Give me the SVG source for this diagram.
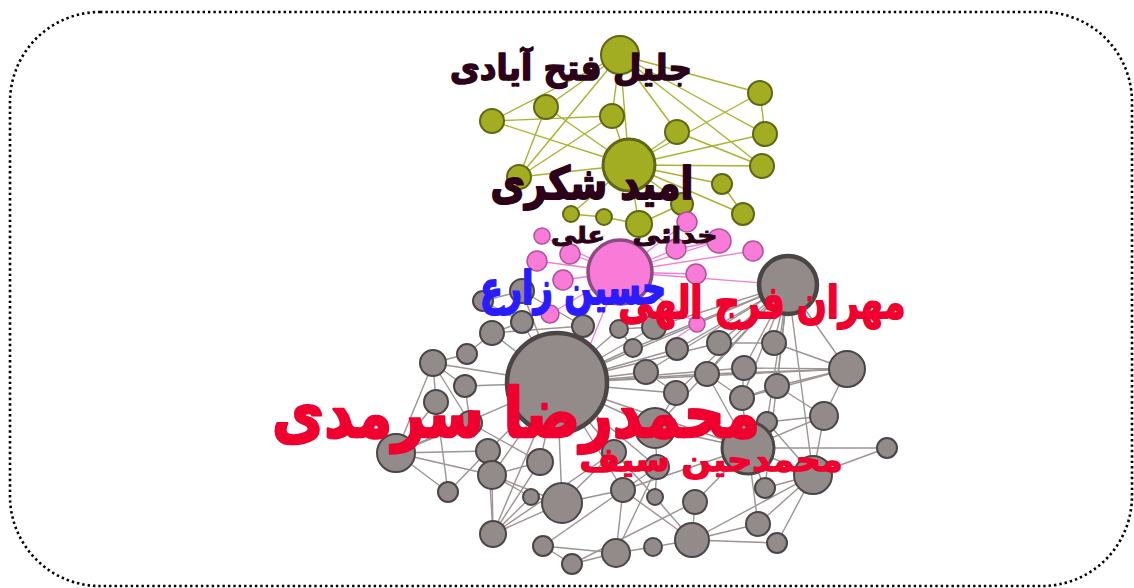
<svg xmlns="http://www.w3.org/2000/svg" width="1134" height="588" viewBox="0 0 1134 588">
<style>
.frame{fill:#fff;stroke:#000;stroke-width:2.6;stroke-dasharray:2.4 3;stroke-linecap:butt}
.eo{stroke:#aab22e;stroke-width:1.4;fill:none}
.ep{stroke:#f27ed6;stroke-width:1.3;fill:none}
.eg{stroke:#9c9393;stroke-width:1.4;fill:none}
.no{fill:#a3ad22;stroke:#5f6614;stroke-width:2}
.np{fill:#f97bd8;stroke:#b0509c;stroke-width:1.5}
.npb{fill:#f97bd8;stroke:#8f4a86;stroke-width:3.5}
.ng{fill:#938a8a;stroke:#4b4545;stroke-width:2}
.ngb{fill:#938a8a;stroke:#4b4545;stroke-width:4.5}
.lb{font-family:"DejaVu Sans",sans-serif;font-weight:bold;text-anchor:middle;stroke-linejoin:round}
.dk{fill:#2c0219;stroke:#2c0219}
.rd{fill:#f0002e;stroke:#f0002e}
.bl{fill:#2a1cff;stroke:#2a1cff}
</style>
<rect class="frame" x="10" y="12" width="1122" height="574" rx="90" ry="90"/>
<g id="connectors">
<g class="eo">
<line x1="620" y1="55" x2="760" y2="93"/>
<line x1="620" y1="55" x2="765" y2="134"/>
<line x1="620" y1="55" x2="762" y2="166"/>
<line x1="620" y1="55" x2="677" y2="132"/>
<line x1="620" y1="55" x2="629" y2="165"/>
<line x1="620" y1="55" x2="612" y2="116"/>
<line x1="620" y1="55" x2="546" y2="107"/>
<line x1="620" y1="55" x2="519" y2="177"/>
<line x1="620" y1="55" x2="492" y2="121"/>
<line x1="492" y1="121" x2="612" y2="116"/>
<line x1="492" y1="121" x2="629" y2="165"/>
<line x1="546" y1="107" x2="629" y2="165"/>
<line x1="546" y1="107" x2="519" y2="177"/>
<line x1="612" y1="116" x2="629" y2="165"/>
<line x1="612" y1="116" x2="519" y2="177"/>
<line x1="760" y1="93" x2="765" y2="134"/>
<line x1="760" y1="93" x2="629" y2="165"/>
<line x1="765" y1="134" x2="629" y2="165"/>
<line x1="762" y1="166" x2="629" y2="165"/>
<line x1="677" y1="132" x2="629" y2="165"/>
<line x1="677" y1="132" x2="762" y2="166"/>
<line x1="519" y1="177" x2="629" y2="165"/>
<line x1="629" y1="165" x2="722" y2="184"/>
<line x1="629" y1="165" x2="682" y2="204"/>
<line x1="629" y1="165" x2="743" y2="214"/>
<line x1="722" y1="184" x2="743" y2="214"/>
<line x1="629" y1="165" x2="571" y2="214"/>
<line x1="629" y1="165" x2="639" y2="224"/>
<line x1="604" y1="217" x2="639" y2="224"/>
<line x1="682" y1="204" x2="639" y2="224"/>
<line x1="571" y1="214" x2="604" y2="217"/>
</g>
<g class="ep">
<line x1="620" y1="272" x2="542" y2="236"/>
<line x1="620" y1="272" x2="570" y2="254"/>
<line x1="620" y1="272" x2="537" y2="261"/>
<line x1="620" y1="272" x2="676" y2="249"/>
<line x1="620" y1="272" x2="719" y2="241"/>
<line x1="620" y1="272" x2="753" y2="251"/>
<line x1="620" y1="272" x2="696" y2="274"/>
<line x1="620" y1="272" x2="563" y2="280"/>
<line x1="620" y1="272" x2="550" y2="314"/>
<line x1="620" y1="272" x2="687" y2="222"/>
<line x1="620" y1="272" x2="788" y2="285"/>
<line x1="620" y1="272" x2="590" y2="345"/>
<line x1="676" y1="249" x2="719" y2="241"/>
<line x1="697" y1="324" x2="670" y2="342"/>
<line x1="620" y1="272" x2="697" y2="324"/>
</g>
<g class="eg">
<line x1="557" y1="383" x2="522" y2="291"/>
<line x1="557" y1="383" x2="522" y2="322"/>
<line x1="557" y1="383" x2="492" y2="333"/>
<line x1="557" y1="383" x2="433" y2="363"/>
<line x1="557" y1="383" x2="465" y2="386"/>
<line x1="557" y1="383" x2="583" y2="326"/>
<line x1="557" y1="383" x2="619" y2="329"/>
<line x1="557" y1="383" x2="633" y2="348"/>
<line x1="557" y1="383" x2="654" y2="327"/>
<line x1="557" y1="383" x2="677" y2="349"/>
<line x1="557" y1="383" x2="719" y2="343"/>
<line x1="557" y1="383" x2="646" y2="372"/>
<line x1="557" y1="383" x2="707" y2="374"/>
<line x1="557" y1="383" x2="744" y2="368"/>
<line x1="557" y1="383" x2="847" y2="369"/>
<line x1="557" y1="383" x2="676" y2="393"/>
<line x1="557" y1="383" x2="655" y2="428"/>
<line x1="557" y1="383" x2="488" y2="451"/>
<line x1="557" y1="383" x2="492" y2="475"/>
<line x1="557" y1="383" x2="540" y2="462"/>
<line x1="557" y1="383" x2="562" y2="503"/>
<line x1="557" y1="383" x2="493" y2="534"/>
<line x1="557" y1="383" x2="614" y2="452"/>
<line x1="557" y1="383" x2="623" y2="490"/>
<line x1="557" y1="383" x2="657" y2="467"/>
<line x1="557" y1="383" x2="748" y2="448"/>
<line x1="557" y1="383" x2="396" y2="453"/>
<line x1="557" y1="383" x2="788" y2="285"/>
<line x1="788" y1="285" x2="654" y2="327"/>
<line x1="788" y1="285" x2="677" y2="349"/>
<line x1="788" y1="285" x2="719" y2="343"/>
<line x1="788" y1="285" x2="774" y2="343"/>
<line x1="788" y1="285" x2="646" y2="372"/>
<line x1="788" y1="285" x2="707" y2="374"/>
<line x1="788" y1="285" x2="744" y2="368"/>
<line x1="788" y1="285" x2="847" y2="369"/>
<line x1="788" y1="285" x2="777" y2="386"/>
<line x1="788" y1="285" x2="676" y2="393"/>
<line x1="788" y1="285" x2="742" y2="398"/>
<line x1="788" y1="285" x2="767" y2="422"/>
<line x1="788" y1="285" x2="813" y2="475"/>
<line x1="788" y1="285" x2="765" y2="488"/>
<line x1="788" y1="285" x2="655" y2="428"/>
<line x1="788" y1="285" x2="633" y2="348"/>
<line x1="847" y1="369" x2="774" y2="343"/>
<line x1="847" y1="369" x2="744" y2="368"/>
<line x1="847" y1="369" x2="777" y2="386"/>
<line x1="847" y1="369" x2="824" y2="416"/>
<line x1="847" y1="369" x2="707" y2="374"/>
<line x1="847" y1="369" x2="742" y2="398"/>
<line x1="824" y1="416" x2="777" y2="386"/>
<line x1="824" y1="416" x2="748" y2="448"/>
<line x1="824" y1="416" x2="767" y2="422"/>
<line x1="824" y1="416" x2="813" y2="475"/>
<line x1="748" y1="448" x2="887" y2="448"/>
<line x1="748" y1="448" x2="813" y2="475"/>
<line x1="748" y1="448" x2="655" y2="428"/>
<line x1="748" y1="448" x2="742" y2="398"/>
<line x1="748" y1="448" x2="765" y2="488"/>
<line x1="748" y1="448" x2="758" y2="524"/>
<line x1="748" y1="448" x2="695" y2="502"/>
<line x1="748" y1="448" x2="623" y2="490"/>
<line x1="748" y1="448" x2="707" y2="374"/>
<line x1="813" y1="475" x2="887" y2="448"/>
<line x1="813" y1="475" x2="758" y2="524"/>
<line x1="813" y1="475" x2="777" y2="543"/>
<line x1="813" y1="475" x2="692" y2="540"/>
<line x1="813" y1="475" x2="765" y2="488"/>
<line x1="813" y1="475" x2="767" y2="422"/>
<line x1="692" y1="540" x2="695" y2="502"/>
<line x1="692" y1="540" x2="758" y2="524"/>
<line x1="692" y1="540" x2="777" y2="543"/>
<line x1="692" y1="540" x2="655" y2="497"/>
<line x1="692" y1="540" x2="653" y2="547"/>
<line x1="692" y1="540" x2="623" y2="490"/>
<line x1="616" y1="553" x2="623" y2="490"/>
<line x1="616" y1="553" x2="572" y2="564"/>
<line x1="616" y1="553" x2="543" y2="546"/>
<line x1="616" y1="553" x2="653" y2="547"/>
<line x1="616" y1="553" x2="657" y2="467"/>
<line x1="572" y1="564" x2="543" y2="546"/>
<line x1="572" y1="564" x2="695" y2="502"/>
<line x1="493" y1="534" x2="492" y2="475"/>
<line x1="493" y1="534" x2="540" y2="462"/>
<line x1="493" y1="534" x2="562" y2="503"/>
<line x1="493" y1="534" x2="531" y2="497"/>
<line x1="493" y1="534" x2="488" y2="451"/>
<line x1="493" y1="534" x2="614" y2="452"/>
<line x1="562" y1="503" x2="614" y2="452"/>
<line x1="562" y1="503" x2="623" y2="490"/>
<line x1="562" y1="503" x2="531" y2="497"/>
<line x1="543" y1="546" x2="623" y2="490"/>
<line x1="396" y1="453" x2="436" y2="402"/>
<line x1="396" y1="453" x2="488" y2="451"/>
<line x1="396" y1="453" x2="492" y2="475"/>
<line x1="396" y1="453" x2="448" y2="492"/>
<line x1="396" y1="453" x2="433" y2="363"/>
<line x1="396" y1="453" x2="470" y2="423"/>
<line x1="448" y1="492" x2="488" y2="451"/>
<line x1="448" y1="492" x2="436" y2="402"/>
<line x1="492" y1="475" x2="488" y2="451"/>
<line x1="492" y1="475" x2="540" y2="462"/>
<line x1="492" y1="475" x2="562" y2="503"/>
<line x1="492" y1="475" x2="531" y2="497"/>
<line x1="433" y1="363" x2="467" y2="354"/>
<line x1="433" y1="363" x2="436" y2="402"/>
<line x1="433" y1="363" x2="465" y2="386"/>
<line x1="433" y1="363" x2="470" y2="423"/>
<line x1="467" y1="354" x2="492" y2="333"/>
<line x1="492" y1="333" x2="522" y2="322"/>
<line x1="492" y1="333" x2="583" y2="326"/>
<line x1="483" y1="301" x2="522" y2="322"/>
<line x1="483" y1="301" x2="522" y2="291"/>
<line x1="522" y1="291" x2="583" y2="326"/>
<line x1="470" y1="423" x2="540" y2="462"/>
<line x1="470" y1="423" x2="465" y2="386"/>
<line x1="657" y1="467" x2="655" y2="428"/>
<line x1="657" y1="467" x2="623" y2="490"/>
<line x1="657" y1="467" x2="655" y2="497"/>
<line x1="655" y1="497" x2="614" y2="452"/>
<line x1="619" y1="329" x2="633" y2="348"/>
<line x1="619" y1="329" x2="654" y2="327"/>
<line x1="742" y1="398" x2="744" y2="368"/>
<line x1="742" y1="398" x2="777" y2="386"/>
<line x1="742" y1="398" x2="707" y2="374"/>
<line x1="676" y1="393" x2="646" y2="372"/>
<line x1="676" y1="393" x2="655" y2="428"/>
<line x1="719" y1="343" x2="774" y2="343"/>
</g>
</g>
<g id="node-jalil"><circle class="no" cx="620" cy="55" r="19"/></g>
<g id="node-o1"><circle class="no" cx="760" cy="93" r="12"/></g>
<g id="node-o2"><circle class="no" cx="492" cy="121" r="12"/></g>
<g id="node-o3"><circle class="no" cx="546" cy="107" r="12"/></g>
<g id="node-o4"><circle class="no" cx="612" cy="116" r="12"/></g>
<g id="node-o5"><circle class="no" cx="677" cy="132" r="12"/></g>
<g id="node-o6"><circle class="no" cx="765" cy="134" r="12"/></g>
<g id="node-o7"><circle class="no" cx="762" cy="166" r="12"/></g>
<g id="node-omid"><circle class="no" cx="629" cy="165" r="26" style="stroke-width:3"/></g>
<g id="node-o8"><circle class="no" cx="519" cy="177" r="12"/></g>
<g id="node-o9"><circle class="no" cx="722" cy="184" r="10"/></g>
<g id="node-o10"><circle class="no" cx="682" cy="204" r="11"/></g>
<g id="node-o11"><circle class="no" cx="743" cy="214" r="11"/></g>
<g id="node-o12"><circle class="no" cx="571" cy="214" r="8"/></g>
<g id="node-o13"><circle class="no" cx="604" cy="217" r="8"/></g>
<g id="node-p11"><circle class="np" cx="687" cy="222" r="10"/></g>
<g id="node-o14"><circle class="no" cx="639" cy="224" r="13"/></g>
<g id="node-p1"><circle class="np" cx="542" cy="236" r="8"/></g>
<g id="node-p2"><circle class="np" cx="570" cy="254" r="10"/></g>
<g id="node-p3"><circle class="np" cx="537" cy="261" r="10"/></g>
<g id="node-p4"><circle class="np" cx="676" cy="249" r="10"/></g>
<g id="node-p5"><circle class="np" cx="719" cy="241" r="12"/></g>
<g id="node-p6"><circle class="np" cx="753" cy="251" r="10"/></g>
<g id="node-p7"><circle class="np" cx="696" cy="274" r="10"/></g>
<g id="node-p8"><circle class="np" cx="563" cy="280" r="10"/></g>
<g id="node-g1"><circle class="ng" cx="483" cy="301" r="10"/></g>
<g id="node-g2"><circle class="ng" cx="522" cy="291" r="12"/></g>
<g id="node-p9"><circle class="np" cx="550" cy="314" r="9"/></g>
<g id="node-hossein"><circle class="npb" cx="620" cy="272" r="32"/></g>
<g id="node-mehran"><circle class="ngb" cx="788" cy="285" r="29"/></g>
<g id="node-p10"><circle class="np" cx="697" cy="324" r="8"/></g>
<g id="node-g3"><circle class="ng" cx="522" cy="322" r="11"/></g>
<g id="node-g4"><circle class="ng" cx="492" cy="333" r="12"/></g>
<g id="node-g5"><circle class="ng" cx="467" cy="354" r="10"/></g>
<g id="node-g6"><circle class="ng" cx="433" cy="363" r="13"/></g>
<g id="node-g7"><circle class="ng" cx="465" cy="386" r="11"/></g>
<g id="node-g8"><circle class="ng" cx="436" cy="402" r="12"/></g>
<g id="node-g9"><circle class="ng" cx="583" cy="326" r="11"/></g>
<g id="node-g10"><circle class="ng" cx="619" cy="329" r="9"/></g>
<g id="node-g11"><circle class="ng" cx="633" cy="348" r="9"/></g>
<g id="node-g12"><circle class="ng" cx="654" cy="327" r="12"/></g>
<g id="node-g13"><circle class="ng" cx="677" cy="349" r="11"/></g>
<g id="node-g14"><circle class="ng" cx="719" cy="343" r="12"/></g>
<g id="node-g15"><circle class="ng" cx="774" cy="343" r="12"/></g>
<g id="node-g16"><circle class="ng" cx="646" cy="372" r="12"/></g>
<g id="node-g17"><circle class="ng" cx="707" cy="374" r="12"/></g>
<g id="node-g18"><circle class="ng" cx="744" cy="368" r="12"/></g>
<g id="node-g19"><circle class="ng" cx="847" cy="369" r="18"/></g>
<g id="node-g20"><circle class="ng" cx="777" cy="386" r="12"/></g>
<g id="node-g21"><circle class="ng" cx="676" cy="393" r="12"/></g>
<g id="node-g22"><circle class="ng" cx="742" cy="398" r="12"/></g>
<g id="node-g23"><circle class="ng" cx="824" cy="416" r="14"/></g>
<g id="node-g24"><circle class="ng" cx="767" cy="422" r="10"/></g>
<g id="node-g25"><circle class="ng" cx="655" cy="428" r="20"/></g>
<g id="node-g26"><circle class="ng" cx="470" cy="423" r="12"/></g>
<g id="node-mohammadreza"><circle class="ngb" cx="557" cy="383" r="50"/></g>
<g id="node-g27"><circle class="ng" cx="396" cy="453" r="19"/></g>
<g id="node-g28"><circle class="ng" cx="488" cy="451" r="12"/></g>
<g id="node-g29"><circle class="ng" cx="492" cy="475" r="14"/></g>
<g id="node-g30"><circle class="ng" cx="540" cy="462" r="13"/></g>
<g id="node-g31"><circle class="ng" cx="448" cy="492" r="10"/></g>
<g id="node-g32"><circle class="ng" cx="531" cy="497" r="8"/></g>
<g id="node-g33"><circle class="ng" cx="562" cy="503" r="20"/></g>
<g id="node-g34"><circle class="ng" cx="493" cy="534" r="13"/></g>
<g id="node-g35"><circle class="ng" cx="543" cy="546" r="10"/></g>
<g id="node-g36"><circle class="ng" cx="572" cy="564" r="10"/></g>
<g id="node-g37"><circle class="ng" cx="616" cy="553" r="14"/></g>
<g id="node-g38"><circle class="ng" cx="623" cy="490" r="12"/></g>
<g id="node-g39"><circle class="ng" cx="614" cy="452" r="12"/></g>
<g id="node-g40"><circle class="ng" cx="887" cy="448" r="10"/></g>
<g id="node-g41"><circle class="ng" cx="813" cy="475" r="19"/></g>
<g id="node-mohammadhossein"><circle class="ngb" cx="748" cy="448" r="26" style="stroke-width:3"/></g>
<g id="node-g42"><circle class="ng" cx="657" cy="467" r="12"/></g>
<g id="node-g43"><circle class="ng" cx="655" cy="497" r="8"/></g>
<g id="node-g44"><circle class="ng" cx="695" cy="502" r="12"/></g>
<g id="node-g45"><circle class="ng" cx="765" cy="488" r="10"/></g>
<g id="node-g46"><circle class="ng" cx="758" cy="524" r="12"/></g>
<g id="node-g47"><circle class="ng" cx="692" cy="540" r="17"/></g>
<g id="node-g48"><circle class="ng" cx="777" cy="543" r="10"/></g>
<g id="node-g49"><circle class="ng" cx="653" cy="547" r="9"/></g>
<g id="labels">
<text class="lb dk" x="571" y="80" font-size="35" stroke-width="1.6" textLength="242" lengthAdjust="spacingAndGlyphs">جلیل فتح آیادی</text>
<text class="lb dk" x="592" y="199" font-size="45" stroke-width="2" textLength="203" lengthAdjust="spacingAndGlyphs">امید شکری</text>
<text class="lb dk" x="675" y="243" font-size="23" stroke-width="1" textLength="85" lengthAdjust="spacingAndGlyphs">خدائی</text>
<text class="lb dk" x="578" y="243" font-size="23" stroke-width="1" textLength="54" lengthAdjust="spacingAndGlyphs">علی</text>
<text class="lb bl" x="573" y="304" font-size="46" stroke-width="2" textLength="186" lengthAdjust="spacingAndGlyphs">حسین زارع</text>
<text class="lb rd" x="762" y="318" font-size="45" stroke-width="2" textLength="287" lengthAdjust="spacingAndGlyphs">مهران فرج الهی</text>
<text class="lb rd" x="516" y="437" font-size="68" stroke-width="2.6" textLength="488" lengthAdjust="spacingAndGlyphs">محمدرضا سرمدی</text>
<text class="lb rd" x="711" y="471" font-size="33" stroke-width="1.5" textLength="263" lengthAdjust="spacingAndGlyphs">محمدحین سیف</text>
</g>
</svg>
